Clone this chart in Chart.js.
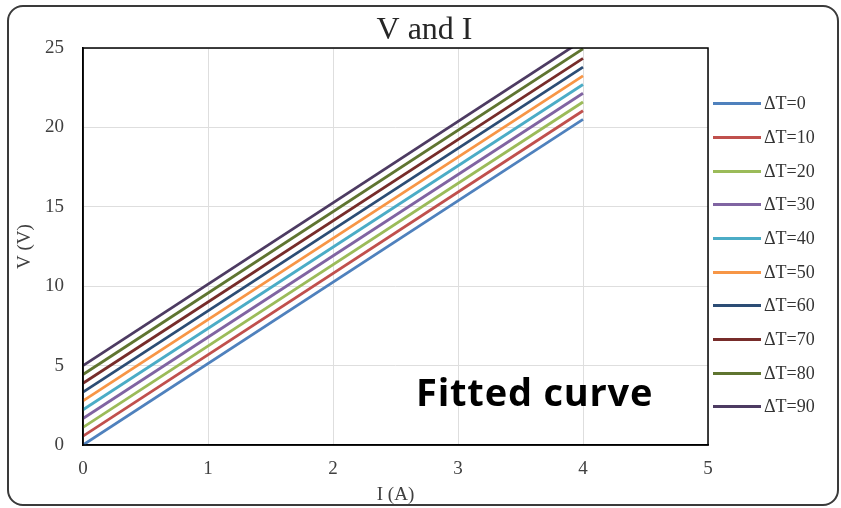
<!DOCTYPE html>
<html>
<head>
<meta charset="utf-8">
<script src="https://cdn.jsdelivr.net/npm/chart.js@4.4.1/dist/chart.umd.min.js"></script>
<style>
html,body{margin:0;padding:0;background:#fff;}
#wrap{position:relative;width:841px;height:508px;overflow:hidden;background:#fff;}
#frame{position:absolute;left:7px;top:5px;width:832px;height:501px;box-sizing:border-box;border:2px solid #3a3a3a;border-radius:16px;}
#c{position:absolute;left:0;top:0;}
#legend{position:absolute;left:713px;top:87px;margin:0;padding:0;list-style:none;font-family:'Liberation Serif','Times New Roman',serif;font-size:18px;color:#333;}
#legend li{display:flex;align-items:center;height:33.67px;white-space:nowrap;}
#legend .sw{display:inline-block;width:48px;height:3px;margin-right:3px;}
#note{position:absolute;left:416px;top:371px;font-family:'Open Sans',sans-serif;font-weight:700;font-size:38px;letter-spacing:0.8px;line-height:40px;color:#000;white-space:nowrap;}
</style>
</head>
<body>
<div id="wrap">
  <div id="frame"></div>
  <canvas id="c" width="841" height="508"></canvas>
  <ul id="legend"></ul>
  <div id="note">Fitted curve</div>
</div>
<script>
// ---- data ----
const chartTitle = 'V and I';
const xAxisTitle = 'I (A)';
const yAxisTitle = 'V (V)';
const xTickValues = [0, 1, 2, 3, 4, 5];
const yTickValues = [0, 5, 10, 15, 20, 25];
const seriesLabels = ['\u0394T=0','\u0394T=10','\u0394T=20','\u0394T=30','\u0394T=40','\u0394T=50','\u0394T=60','\u0394T=70','\u0394T=80','\u0394T=90'];
const currentA = [0, 4];
const v_dT0  = [0.00, 20.50];
const v_dT10 = [0.56, 21.05];
const v_dT20 = [1.11, 21.60];
const v_dT30 = [1.67, 22.15];
const v_dT40 = [2.22, 22.70];
const v_dT50 = [2.78, 23.25];
const v_dT60 = [3.33, 23.80];
const v_dT70 = [3.89, 24.35];
const v_dT80 = [4.44, 24.95];
const v_dT90 = [5.00, 25.50];
const seriesValues = [v_dT0, v_dT10, v_dT20, v_dT30, v_dT40, v_dT50, v_dT60, v_dT70, v_dT80, v_dT90];
const seriesColors = ['#4F81BD','#C0504D','#9BBB59','#8064A2','#4BACC6','#F79646','#2C4D75','#772C2A','#5F7530','#4D3B62'];

const serif = "'Liberation Serif','Times New Roman',serif";
Chart.defaults.font.family = serif;
Chart.defaults.color = '#404040';

const datasets = seriesLabels.map((lab, i) => ({
  label: lab,
  data: currentA.map((x, j) => ({x: x, y: seriesValues[i][j]})),
  borderColor: seriesColors[i],
  backgroundColor: seriesColors[i],
  borderWidth: 2.75,
  pointRadius: 0,
  pointHoverRadius: 0,
  fill: false,
  tension: 0,
  clip: 0
}));

const frameBorder = {
  id: 'frameBorder',
  afterDatasetsDraw(chart) {
    const {ctx, chartArea: a} = chart;
    ctx.save();
    ctx.strokeStyle = '#000';
    ctx.lineWidth = 1.5;
    ctx.strokeRect(a.left, a.top, a.right - a.left, a.bottom - a.top);
    ctx.restore();
  }
};

const htmlLegend = {
  id: 'htmlLegend',
  afterUpdate(chart) {
    const ul = document.getElementById('legend');
    ul.innerHTML = '';
    chart.data.datasets.forEach(ds => {
      const li = document.createElement('li');
      const sw = document.createElement('span');
      sw.className = 'sw';
      sw.style.background = ds.borderColor;
      const tx = document.createElement('span');
      tx.textContent = ds.label;
      li.appendChild(sw); li.appendChild(tx);
      ul.appendChild(li);
    });
  }
};

new Chart(document.getElementById('c'), {
  type: 'line',
  data: { datasets },
  plugins: [frameBorder, htmlLegend],
  options: {
    responsive: false,
    animation: false,
    devicePixelRatio: 1,
    layout: { padding: { left: 8, right: 0, top: 5, bottom: 0 } },
    plugins: {
      legend: { display: false },
      tooltip: { enabled: false },
      title: {
        display: true,
        text: chartTitle,
        color: '#262626',
        font: { family: serif, size: 32, weight: 'normal', lineHeight: 1 },
        padding: { top: 10, bottom: 1 }
      }
    },
    scales: {
      x: {
        type: 'linear',
        min: xTickValues[0],
        max: xTickValues[xTickValues.length - 1],
        afterBuildTicks: s => { s.ticks = xTickValues.map(v => ({value: v})); },
        grid: { color: '#dedede', lineWidth: 1, drawTicks: false },
        border: { display: true, color: '#000', width: 1.5 },
        ticks: { padding: 13, font: { size: 19 }, color: '#404040' },
        title: { display: true, text: xAxisTitle, color: '#404040', font: { size: 19 }, padding: { top: 0, bottom: 2 } },
        afterFit: s => { s.height = 63; }
      },
      y: {
        type: 'linear',
        min: yTickValues[0],
        max: yTickValues[yTickValues.length - 1],
        afterBuildTicks: s => { s.ticks = yTickValues.map(v => ({value: v})); },
        grid: { color: '#dedede', lineWidth: 1, drawTicks: false },
        border: { display: true, color: '#000', width: 1.5 },
        ticks: { padding: 19, font: { size: 19 }, color: '#404040' },
        title: { display: true, text: yAxisTitle, color: '#404040', font: { size: 19 }, padding: { top: 6, bottom: 0 } },
        afterFit: s => { s.width = 75; }
      },
      spacer: {
        type: 'linear',
        position: 'right',
        display: true,
        min: 0, max: 25,
        grid: { display: false, drawTicks: false },
        border: { display: false },
        ticks: { display: false },
        afterFit: s => { s.width = 133; }
      }
    }
  }
});
</script>
</body>
</html>
